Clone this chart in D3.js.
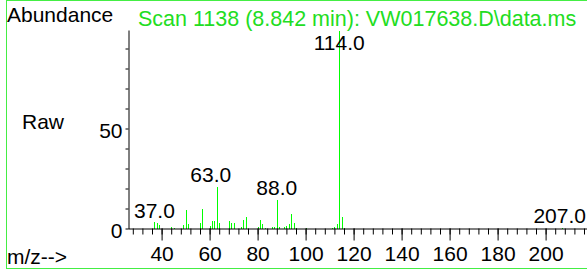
<!DOCTYPE html>
<html>
<head>
<meta charset="utf-8">
<script src="https://cdn.jsdelivr.net/npm/d3@7"></script>
<style>
  body { margin: 0; background: #fff; }
  svg { display: block; }
  svg text { font-family: "Liberation Sans", Arial, sans-serif; }
</style>
</head>
<body>
<svg id="chart"></svg>
<script>
// spectrum peaks (m/z, abundance)
var mzValues = [37, 38, 39, 44, 45, 49, 50, 51, 56, 57, 60, 61, 62, 63, 64,
  68, 69, 70, 73, 74, 75, 80, 81, 82, 83, 86, 87, 88, 89,
  91, 92, 93, 94, 95, 96, 100, 111, 112, 113, 114, 115, 116, 207];
var abundances = [3.2, 2.8, 1.8, 1.0, 0.5, 1.7, 9.2, 2.2, 2.8, 10, 1.2, 3.8, 3.8, 20.8, 2.8,
  3.6, 2.9, 2.8, 0.6, 4.5, 6.0, 0.9, 4.5, 2.2, 0.5, 0.8, 0.8, 14.5, 0.6,
  0.6, 1.2, 2.3, 7.2, 2.8, 0.5, 0.3, 0.5, 0.8, 2.5, 99, 5.8, 0.5, 0.5];
var labelledPeaks = [37, 63, 88, 114, 207];
var xMajorTicks = [40, 60, 80, 100, 120, 140, 160, 180, 200];
var yLabelTicks = [0, 50];

var titleText = "Scan 1138 (8.842 min): VW017638.D\\data.ms";

var width = 587;
var height = 273;
var fontSize = 21;

var svg = d3.select("#chart")
  .attr("width", width)
  .attr("height", height);

// green frame
svg.append("rect")
  .attr("x", 6.5)
  .attr("y", 0.5)
  .attr("width", 700)
  .attr("height", 268)
  .attr("fill", "none")
  .attr("stroke", "#44ee44")
  .attr("stroke-width", 1);

var x = d3.scaleLinear()
  .domain([26, 225])
  .range([128, 128 + 199 * 2.4]);

var y = d3.scaleLinear()
  .domain([0, 99.25])
  .range([228.5, 30]);

// peaks
var peaks = mzValues.map(function (d, i) { return { mz: d, v: abundances[i] }; });

svg.selectAll("line.peak")
  .data(peaks)
  .enter()
  .append("line")
  .attr("class", "peak")
  .attr("x1", function (d) { return Math.round(x(d.mz)) + 0.5; })
  .attr("x2", function (d) { return Math.round(x(d.mz)) + 0.5; })
  .attr("y1", y(0))
  .attr("y2", function (d) { return y(d.v); })
  .attr("stroke", "#00ff00")
  .attr("stroke-width", 1)
  .attr("shape-rendering", "crispEdges");

// Y axis
var yAxis = svg.append("g")
  .attr("transform", "translate(128.5,0)")
  .call(d3.axisLeft(y)
    .tickValues(d3.range(0, 100, 10))
    .tickSize(3)
    .tickSizeOuter(0)
    .tickPadding(3)
    .tickFormat(function (d) { return yLabelTicks.indexOf(d) >= 0 ? d : ""; }));
yAxis.selectAll("text")
  .style("font-size", fontSize + "px")
  .attr("dy", "0.42em")
  .attr("fill", "#000");
yAxis.selectAll("line, path").attr("stroke", "#000");

// X axis minor ticks
var xMinor = svg.append("g")
  .attr("transform", "translate(0,228.5)")
  .call(d3.axisBottom(x)
    .tickValues(d3.range(28, 226, 4))
    .tickSize(6)
    .tickSizeOuter(0)
    .tickFormat(""));
xMinor.selectAll("line, path").attr("stroke", "#000");

// X axis major ticks
var xMajor = svg.append("g")
  .attr("transform", "translate(0,228.5)")
  .call(d3.axisBottom(x)
    .tickValues(xMajorTicks)
    .tickSize(12)
    .tickSizeOuter(0));
xMajor.select(".domain").remove();
xMajor.selectAll("line").attr("stroke", "#000");
xMajor.selectAll("text")
  .attr("dy", null)
  .attr("y", 32.5)
  .attr("fill", "#000")
  .style("font-size", fontSize + "px");

// peak labels (kept inside the plot, nudged where the original shifts them)
var labelNudge = { 63: -6 };
svg.selectAll("text.plabel")
  .data(peaks.filter(function (d) { return labelledPeaks.indexOf(d.mz) >= 0; }))
  .enter()
  .append("text")
  .attr("class", "plabel")
  .attr("text-anchor", "middle")
  .attr("y", function (d) { return Math.max(y(d.v) - 4.5, 50); })
  .style("font-size", fontSize + "px")
  .attr("fill", "#000")
  .text(function (d) { return d.mz.toFixed(1); })
  .attr("x", function (d) {
    var cx = x(d.mz) + (labelNudge[d.mz] || 0);
    var half = this.getComputedTextLength() / 2;
    return Math.min(cx, width - 1 - half);
  });

// text labels
svg.append("text")
  .attr("x", 7)
  .attr("y", 22)
  .style("font-size", fontSize + "px")
  .text("Abundance");

svg.append("text")
  .attr("x", 138)
  .attr("y", 25.5)
  .style("font-size", "21.5px")
  .attr("fill", "#22dd22")
  .text(titleText);

svg.append("text")
  .attr("x", 22)
  .attr("y", 129)
  .style("font-size", fontSize + "px")
  .text("Raw");

svg.append("text")
  .attr("x", 7)
  .attr("y", 264)
  .style("font-size", fontSize + "px")
  .text("m/z-->");
</script>
</body>
</html>
